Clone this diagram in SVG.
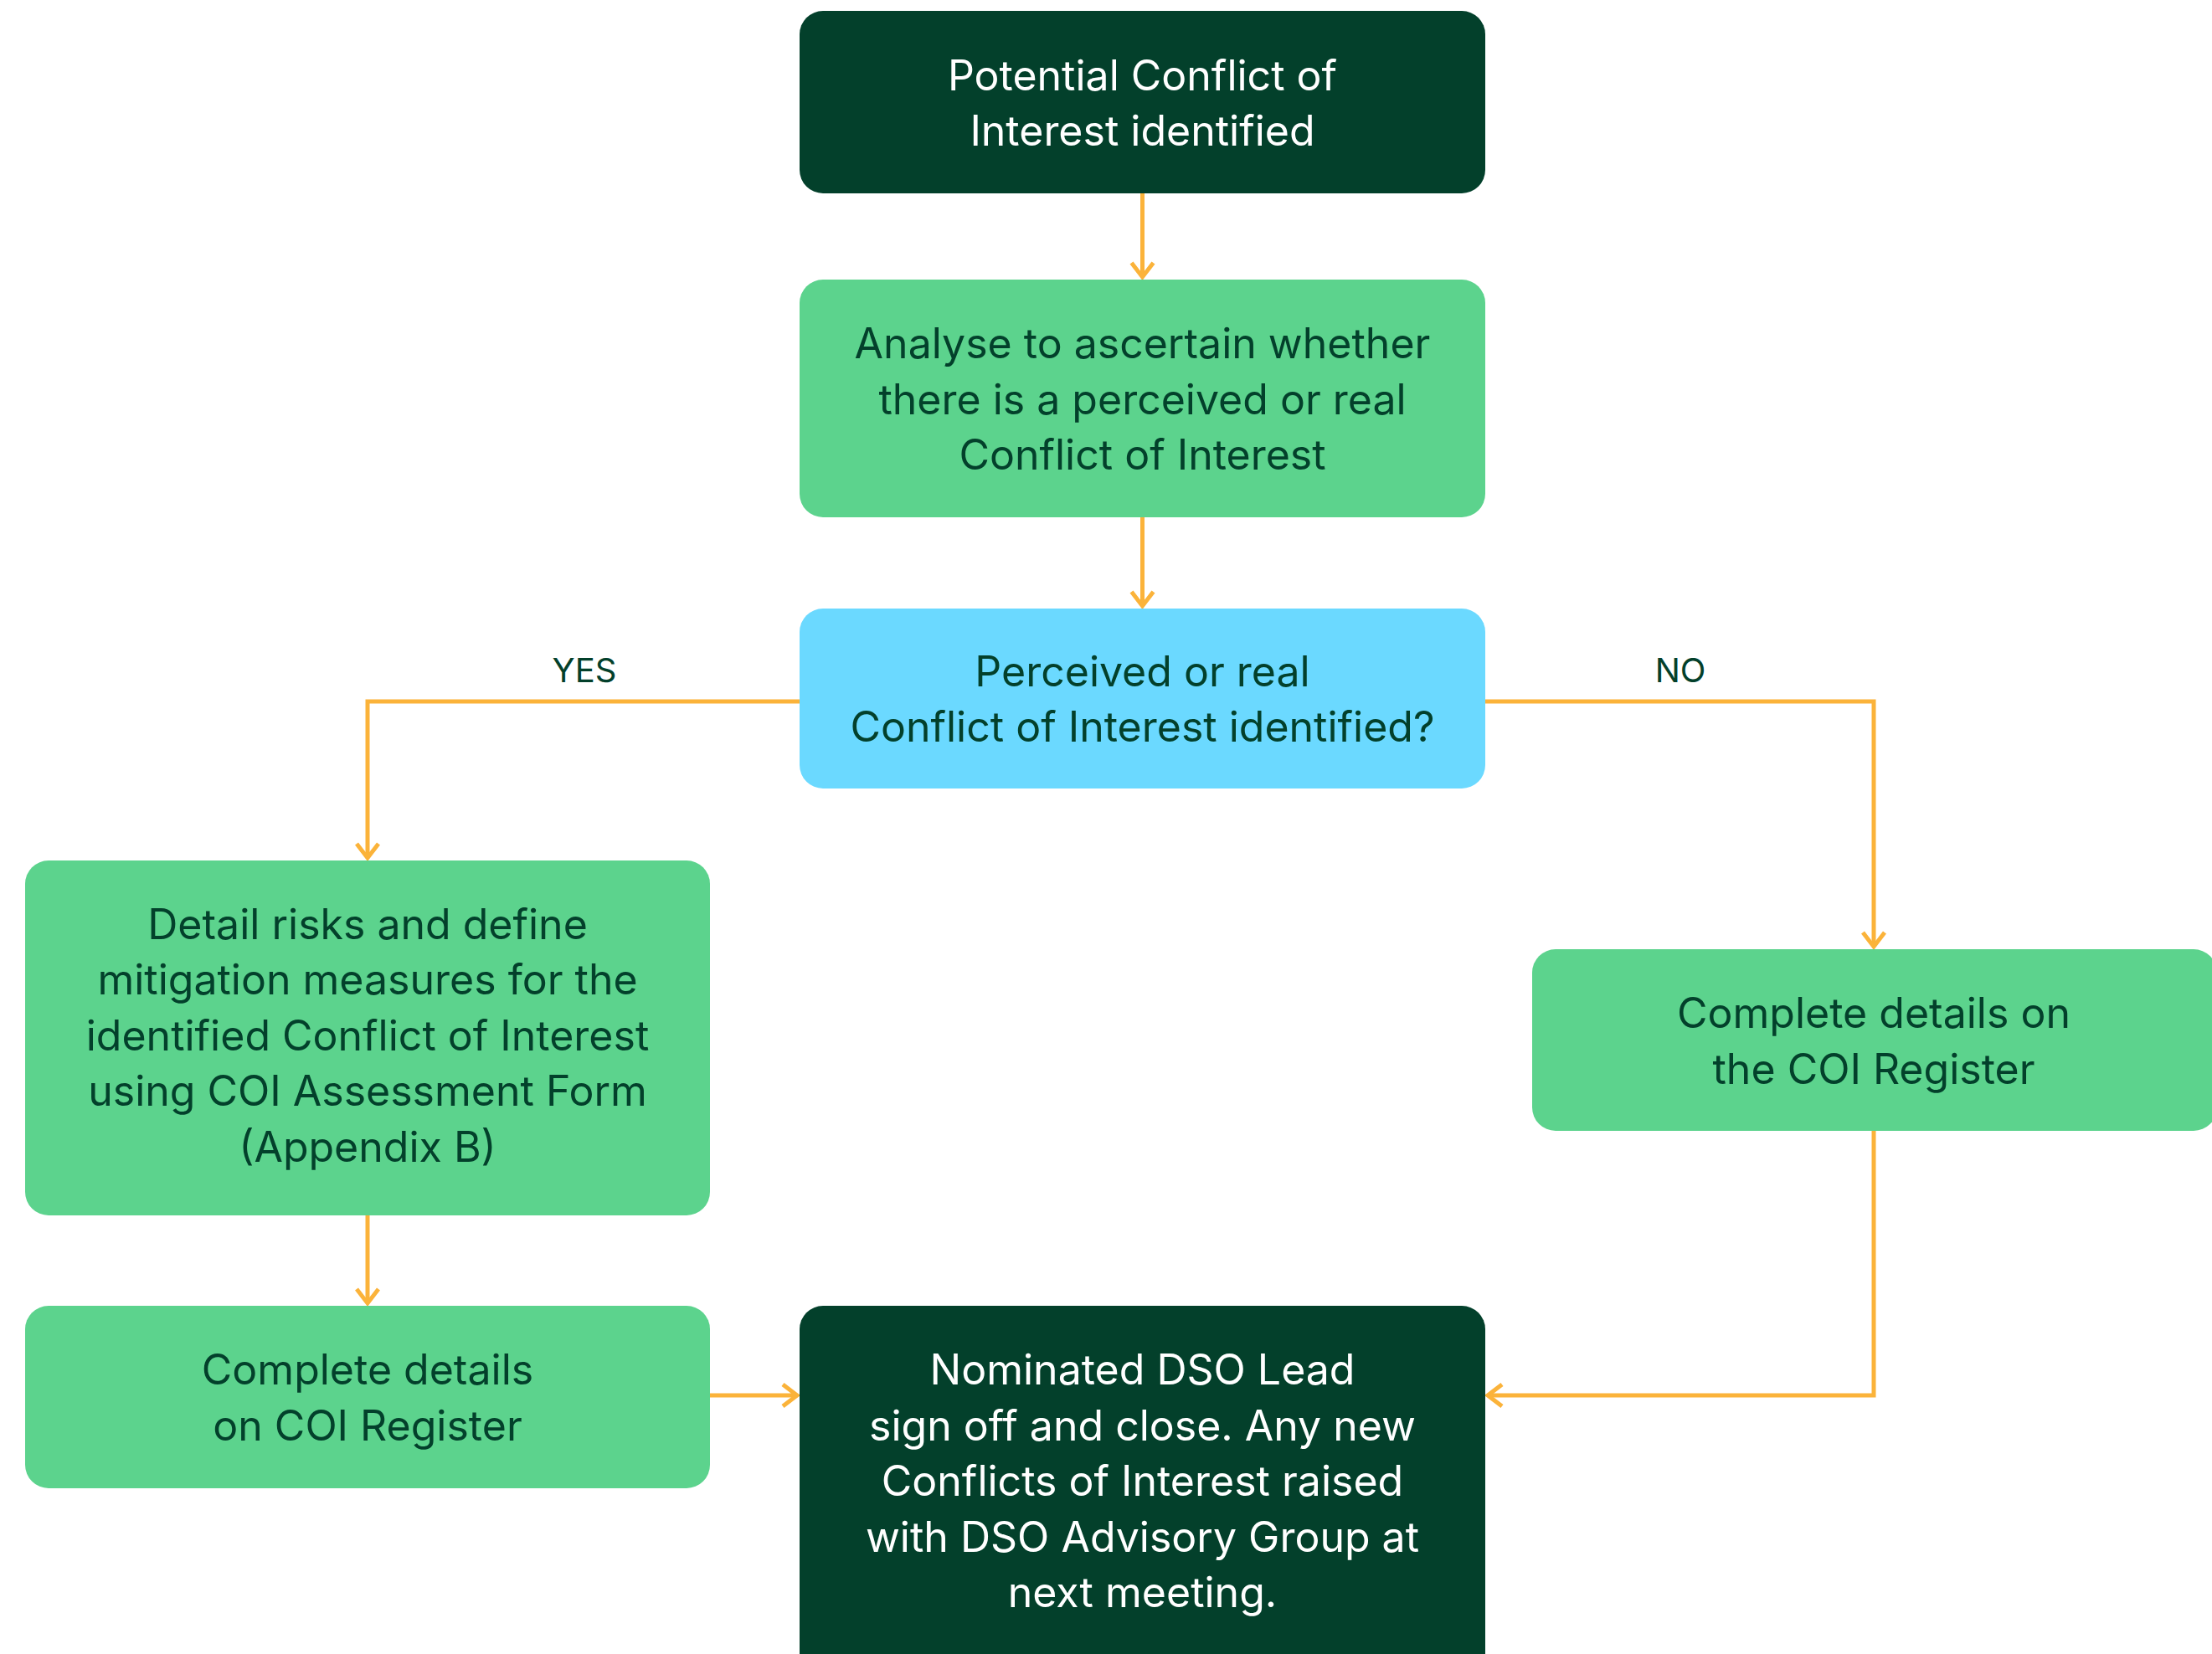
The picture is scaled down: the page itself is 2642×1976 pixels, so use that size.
<svg xmlns="http://www.w3.org/2000/svg" width="2642" height="1976" viewBox="0 0 2642 1976">
<style>
.dark{fill:#03402B}
.green{fill:#5CD38D}
.blue{fill:#6BD9FF}
.t{font-family:Inter,"Liberation Sans",sans-serif;font-size:50px;text-anchor:middle}
.tw{fill:#FFFFFF}
.td{fill:#03402B}
.lbl{font-family:Inter,"Liberation Sans",sans-serif;font-size:40px;text-anchor:middle;fill:#03402B}
.c{fill:none;stroke:#FBB33A;stroke-width:5}
</style>
<defs>
<marker id="arr" markerUnits="userSpaceOnUse" markerWidth="40" markerHeight="40" viewBox="-20 -20 40 40" refX="0" refY="0" orient="auto">
<path d="M-17,-13 L0,0 L-17,13" fill="none" stroke="#FBB33A" stroke-width="5"/>
</marker>
</defs>
<rect width="2642" height="1976" fill="#FFFFFF"/>
<g id="connectors">
<path class="c" d="M1364.5,231 V331" marker-end="url(#arr)"/>
<path class="c" d="M1364.5,618 V724" marker-end="url(#arr)"/>
<path class="c" d="M955,838 H439 V1025" marker-end="url(#arr)"/>
<path class="c" d="M1774,838 H2238 V1131" marker-end="url(#arr)"/>
<path class="c" d="M439,1452 V1557" marker-end="url(#arr)"/>
<path class="c" d="M848,1667 H952" marker-end="url(#arr)"/>
<path class="c" d="M2238,1351 V1667 H1777" marker-end="url(#arr)"/>
<text class="lbl" x="698" y="815">YES</text>
<text class="lbl" x="2007" y="815">NO</text>
</g>
<g id="n1">
<rect class="dark" x="955" y="13" width="819" height="218" rx="28"/>
<text class="t tw" x="1364.5" y="108">Potential Conflict of</text>
<text class="t tw" x="1364.5" y="174">Interest identified</text>
</g>
<g id="n2">
<rect class="green" x="955" y="334" width="819" height="284" rx="28"/>
<text class="t td" x="1364.5" y="428">Analyse to ascertain whether</text>
<text class="t td" x="1364.5" y="495">there is a perceived or real</text>
<text class="t td" x="1364.5" y="561">Conflict of Interest</text>
</g>
<g id="n3">
<rect class="blue" x="955" y="727" width="819" height="215" rx="28"/>
<text class="t td" x="1364.5" y="820">Perceived or real</text>
<text class="t td" x="1364.5" y="886">Conflict of Interest identified?</text>
</g>
<g id="n4">
<rect class="green" x="30" y="1028" width="818" height="424" rx="28"/>
<text class="t td" x="439" y="1122">Detail risks and define</text>
<text class="t td" x="439" y="1188">mitigation measures for the</text>
<text class="t td" x="439" y="1255">identified Conflict of Interest</text>
<text class="t td" x="439" y="1321">using COI Assessment Form</text>
<text class="t td" x="439" y="1388">(Appendix B)</text>
</g>
<g id="n5">
<rect class="green" x="1830" y="1134" width="818" height="217" rx="28"/>
<text class="t td" x="2238" y="1228">Complete details on</text>
<text class="t td" x="2238" y="1295">the COI Register</text>
</g>
<g id="n6">
<rect class="green" x="30" y="1560" width="818" height="218" rx="28"/>
<text class="t td" x="439" y="1654">Complete details</text>
<text class="t td" x="439" y="1721">on COI Register</text>
</g>
<g id="n7">
<rect class="dark" x="955" y="1560" width="819" height="450" rx="28"/>
<text class="t tw" x="1364.5" y="1654">Nominated DSO Lead</text>
<text class="t tw" x="1364.5" y="1721">sign off and close. Any new</text>
<text class="t tw" x="1364.5" y="1787">Conflicts of Interest raised</text>
<text class="t tw" x="1364.5" y="1854">with DSO Advisory Group at</text>
<text class="t tw" x="1364.5" y="1920">next meeting.</text>
</g>
</svg>
